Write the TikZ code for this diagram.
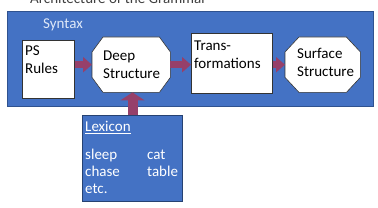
\documentclass[tikz,border=0pt]{standalone}
\usepackage{fontspec}
\setmainfont{Carlito}
\usetikzlibrary{arrows.meta,calc}
\definecolor{sblue}{RGB}{68,114,196}
\definecolor{dblue}{RGB}{47,82,143}
\definecolor{arr}{RGB}{150,64,106}
\definecolor{lighttxt}{RGB}{222,232,248}
\definecolor{titlegray}{RGB}{64,64,64}
\begin{document}
\begin{tikzpicture}[x=1pt,y=-1pt,
  txt/.style={font=\fontsize{15}{18}\selectfont, inner sep=0pt, anchor=base west},
  wbox/.style={draw=black!80, line width=0.6pt, fill=white, anchor=north west, inner sep=0pt},
  ghost/.style={draw=none, anchor=north west, inner sep=0pt},
  oct/.style={draw=black!80, line width=0.6pt, fill=white},
  blk/.style={draw=arr, line width=7pt, -{Triangle[width=15pt,length=9pt]}},
  blkup/.style={draw=arr, line width=10pt, -{Triangle[width=24pt,length=8pt]}}]
\useasboundingbox (0,0) rectangle (378,208);
\clip (0,0) rectangle (378,208);
% title (cut off at top)
\node[txt, text=titlegray] (title) at (30,4) {Architecture of the Grammar};
% syntax panel
\node[draw=dblue, line width=0.5pt, fill=sblue, anchor=north west, inner sep=0pt,
      minimum width=366pt, minimum height=95pt] (syntax) at (7,11) {};
\node[txt, text=lighttxt] (syntaxlbl) at (43,29) {Syntax};
% PS rules
\node[wbox, minimum width=52pt, minimum height=58pt] (ps) at (22,40) {};
\node[txt] (pst1) at (25,56) {PS};
\node[txt] (pst2) at (25,74) {Rules};
% Deep structure (octagon)
\node[ghost, minimum width=78pt, minimum height=55pt] (deep) at (92,37) {};
\draw[oct] ($(deep.north west)+(11,0)$) -- ($(deep.north east)+(-11,0)$)
  -- ($(deep.north east)+(0,15)$) -- ($(deep.south east)+(0,-15)$)
  -- ($(deep.south east)+(-11,0)$) -- ($(deep.south west)+(11,0)$)
  -- ($(deep.south west)+(0,-15)$) -- ($(deep.north west)+(0,15)$) -- cycle;
\node[txt] (deept1) at (103,61) {Deep};
\node[txt] (deept2) at (103,79) {Structure};
% Transformations
\node[wbox, minimum width=81pt, minimum height=60pt] (trans) at (191,33) {};
\node[txt] (trt1) at (194,51) {Trans-};
\node[txt] (trt2) at (194,69) {formations};
% Surface structure (octagon)
\node[ghost, minimum width=75pt, minimum height=55pt] (surf) at (285,37) {};
\draw[oct] ($(surf.north west)+(14,0)$) -- ($(surf.north east)+(-14,0)$)
  -- ($(surf.north east)+(0,15)$) -- ($(surf.south east)+(0,-15)$)
  -- ($(surf.south east)+(-14,0)$) -- ($(surf.south west)+(14,0)$)
  -- ($(surf.south west)+(0,-15)$) -- ($(surf.north west)+(0,15)$) -- cycle;
\node[txt] (sft1) at (297,59) {Surface};
\node[txt] (sft2) at (297,77) {Structure};
% Lexicon
\node[draw=dblue!80!black, line width=1pt, fill=sblue, anchor=north west, inner sep=0pt,
      minimum width=100pt, minimum height=86pt] (lex) at (82,115) {};
\node[txt, text=white] (lext) at (85,132) {\underline{Lexicon}};
\node[txt, text=white] (lx1) at (85,160) {sleep};
\node[txt, text=white] (lx2) at (85,177) {chase};
\node[txt, text=white] (lx3) at (85,194) {etc.};
\node[txt, text=white] (lx4) at (147,160) {cat};
\node[txt, text=white] (lx5) at (147,177) {table};
% arrows
\draw[blk] (ps.east |- deep.west) -- (deep.west);
\draw[blk] (deep.east) -- (deep.east -| trans.west);
\draw[blk] (trans.east |- surf.west) -- (surf.west);
\draw[blkup] (lex.north) -- (lex.north |- deep.south);
\end{tikzpicture}
\end{document}
